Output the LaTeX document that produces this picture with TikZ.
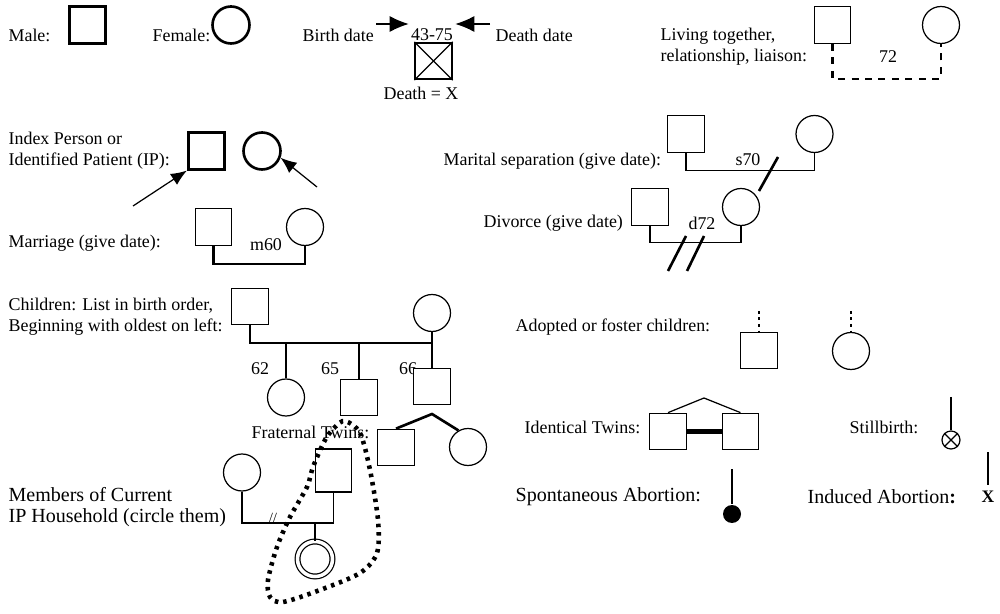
\documentclass[tikz,border=0pt]{standalone}
\usepackage{fontspec}
\setmainfont{Liberation Serif}
\usetikzlibrary{positioning,calc,arrows.meta}
\tikzset{>={Latex[length=3.2mm,width=2.6mm]}}
\tikzset{
    male/.style={rectangle,draw,fill=white,minimum size=7.3mm,inner sep=0pt},
    female/.style={circle,draw,fill=white,minimum size=7.4mm,inner sep=0pt},
    tiny/.style={circle,draw,minimum size=3.6mm,inner sep=0pt},
    lbl/.style={anchor=west,align=left,inner sep=0pt},
    big/.style={font=\fontsize{11.4}{11.8}\selectfont},
    bold/.style={line width=1.5pt},
    bigtip/.style={-{Latex[length=3.8mm,width=3.2mm]}}
}

\begin{document}
\begin{tikzpicture}[x=0.02cm,y=-0.02cm,line width=0.7pt,
    font=\fontsize{10.2}{11.8}\selectfont]

    \useasboundingbox (0,0) rectangle (1000,614);

    \def\yTop{25}
    \def\yIP{151}
    \def\ySib{343}
    \def\yHouse{523}

    % labels
    \node [lbl] at (8,35) (malelbl) {Male:};
    \node [lbl] at (152,35) (femalelbl) {Female:};
    \node [lbl] at (302,35) (birthlbl) {Birth date};
    \node [inner sep=1pt] at (432,35) (dates) {43-75};
    \node [lbl] at (495,35) (deathlbl) {Death date};
    \node at (421,93) (deadlbl) {Death = X};
    \node [lbl] at (660,47) (livelbl) {Living together,\\relationship, liaison:};
    \node at (888,57) (lbl72) {72};
    \node [lbl] at (8,\yIP) (iplbl) {Index Person or\\Identified Patient (IP):};
    \node [lbl] at (8,243) (marlbl) {Marriage (give date):};
    \node at (266,245) (m60) {m60};
    \node [lbl] at (443,161) (seplbl) {Marital separation (give date):};
    \node at (748,160) (s70) {s70};
    \node [lbl] at (483,223) (divlbl) {Divorce (give date)};
    \node at (702,223) (d72) {d72};
    \node [lbl] at (8,317) (kidslbl) {Children: List in birth order,\\Beginning with oldest on left:};
    \node at (260,369) (lbl62) {62};
    \node at (330,369) (lbl65) {65};
    \node at (408,369) (lbl66) {66};
    \node [lbl] at (515,327) (adoptlbl) {Adopted or foster children:};
    \node [lbl] at (251,432) (fraterlbl) {Fraternal Twins:};
    \node [lbl] at (524,427) (idtwlbl) {Identical Twins:};
    \node [lbl] at (849,427) (stilllbl) {Stillbirth:};
    \node [lbl,big] at (8,507) (hhlbl) {Members of Current\\IP Household (circle them)};
    \node [inner sep=0pt,font=\fontsize{8}{9}\selectfont] at (273,518) (hhslash) {//};
    \node [lbl,big] at (515,497) (spontlbl) {Spontaneous Abortion:};
    \node [lbl,big] at (807,497) (inducedlbl) {Induced Abortion\textbf{:}};
    \node [big,font=\bfseries] at (988,497) (induced) {X};

    % people
    \node [male,bold] at (87.5,\yTop) (malebox) {};
    \node [female,bold] at (231,\yTop) (femalebox) {};
    \node [male,line width=1pt] at (433.5,61) (deadbox) {};
    \node [male] at (832.5,\yTop) (livem) {};
    \node [female] at (941,\yTop) (livef) {};
    \node [male,bold] at (206.5,\yIP) (ipm) {};
    \node [female,bold] at (262,\yIP) (ipf) {};
    \node [male] at (213.5,227) (marm) {};
    \node [female] at (305,227) (marf) {};
    \node [male] at (686,134) (sepm) {};
    \node [female] at (814.5,134) (sepf) {};
    \node [male] at (650,207) (divm) {};
    \node [female] at (741,207) (divf) {};
    \node [male] at (250,306.5) (father) {};
    \node [female] at (432,313) (mother) {};
    \node [female] at (286,397.5) (kid62) {};
    \node [male] at (359,397.5) (kid65) {};
    \node [male] at (432,386.5) (kid66) {};
    \node [male] at (396,447.5) (twinm) {};
    \node [female] at (468,447) (twinf) {};
    \node [male] at (759,350.5) (adoptm) {};
    \node [female] at (851,351) (adoptf) {};
    \node [male] at (668,431.5) (idtwa) {};
    \node [male] at (740.5,431.5) (idtwb) {};
    \node [tiny] at (951,440) (still) {};
    \node [circle,fill=black,minimum size=3.6mm,inner sep=0pt] at (732,514) (spont) {};
    \node [female] at (242,472.5) (hhf) {};
    \node [male,minimum height=8.6mm] at (333.5,470.5) (hhm) {};
    \node [female,minimum size=7mm,double,double distance=2pt] at (315,559) (hhkid) {};

    % free ends
    \coordinate (birthtail) at (376,24);
    \coordinate (deathtail) at (490,24);
    \coordinate (iptailm) at (133,206);
    \coordinate (iptailf) at (317,187);
    \coordinate (sibline) at (0,\ySib);
    \coordinate (ftop) at (432,414);
    \coordinate (itop) at (704,398);
    \coordinate (adtopm) at (759,311);
    \coordinate (adtopf) at (851,311);
    \coordinate (stilltop) at (951,397);
    \coordinate (spontop) at (732,469);
    \coordinate (indtop) at (988,452);
    \coordinate (houseline) at (0,\yHouse);

    \draw[bigtip] (birthtail) -- (birthtail -| dates.west);
    \draw[bigtip] (deathtail) -- (deathtail -| dates.east);
    \draw[-] (deadbox.north west) -- (deadbox.south east);
    \draw[-] (deadbox.north east) -- (deadbox.south west);
    \draw[-,bold,dash pattern=on 1.4mm off 1.3mm] (livem.south) -- ++(0,35) -| (livef.south);
    \draw[->] (iptailm) -- (ipm.south west);
    \draw[->] (iptailf) -- (ipf.-20);
    \draw[-,line width=1.2pt] (marm.south) -- ++(0,18) -| (marf.south);
    \draw[-] (sepm.south) -- ++(0,18) -| (sepf.south);
    \draw[-,bold] (759,191) -- (778,157);
    \draw[-] (divm.south) -- ++(0,17) -| (divf.south);
    \draw[-,bold] (668,271) -- (686,236);
    \draw[-,bold] (687,271) -- (704,236);
    \draw[-] (father.south) -- (father.south |- sibline) -| (mother.south);
    \draw[-,bold] (kid62.north) -- (kid62.north |- sibline);
    \draw[-,bold] (kid65.north) -- (kid65.north |- sibline);
    \draw[-,bold] (mother.south) -- (kid66.north);
    \draw[-,bold] (twinm.north) -- (ftop) -- (twinf.120);
    \draw[-,bold,dash pattern=on 1.5pt off 2.2pt] (adtopm) -- (adoptm.north);
    \draw[-,bold,dash pattern=on 1.5pt off 2.2pt] (adtopf) -- (adoptf.north);
    \draw[-] (idtwa.north) -- (itop) -- (idtwb.north);
    \draw[-,line width=2.4pt] (idtwa.east) -- (idtwb.west);
    \draw[-,bold] (stilltop) -- (still.north);
    \draw[-] (still.north west) -- (still.south east);
    \draw[-] (still.north east) -- (still.south west);
    \draw[-,bold] (spontop) -- (spont.north);
    \draw[-,bold] (indtop) -- (induced.north);
    \draw[-] (hhf.south) -- (hhf.south |- houseline) -| (hhm.south);
    \draw[-] (hhkid.north) -- (hhkid.north |- houseline);

    % household loop
    \draw[line width=2.6pt,dash pattern=on 2pt off 2.8pt]
        plot[smooth cycle] coordinates {(345,421) (360,433) (370,470) (378,520)
        (377,553) (360,573) (320,590) (283,602) (270,597) (268,580) (277,547)
        (290,517) (307,487) (313,467) (325,440) (335,427)};

\end{tikzpicture}
\end{document}
